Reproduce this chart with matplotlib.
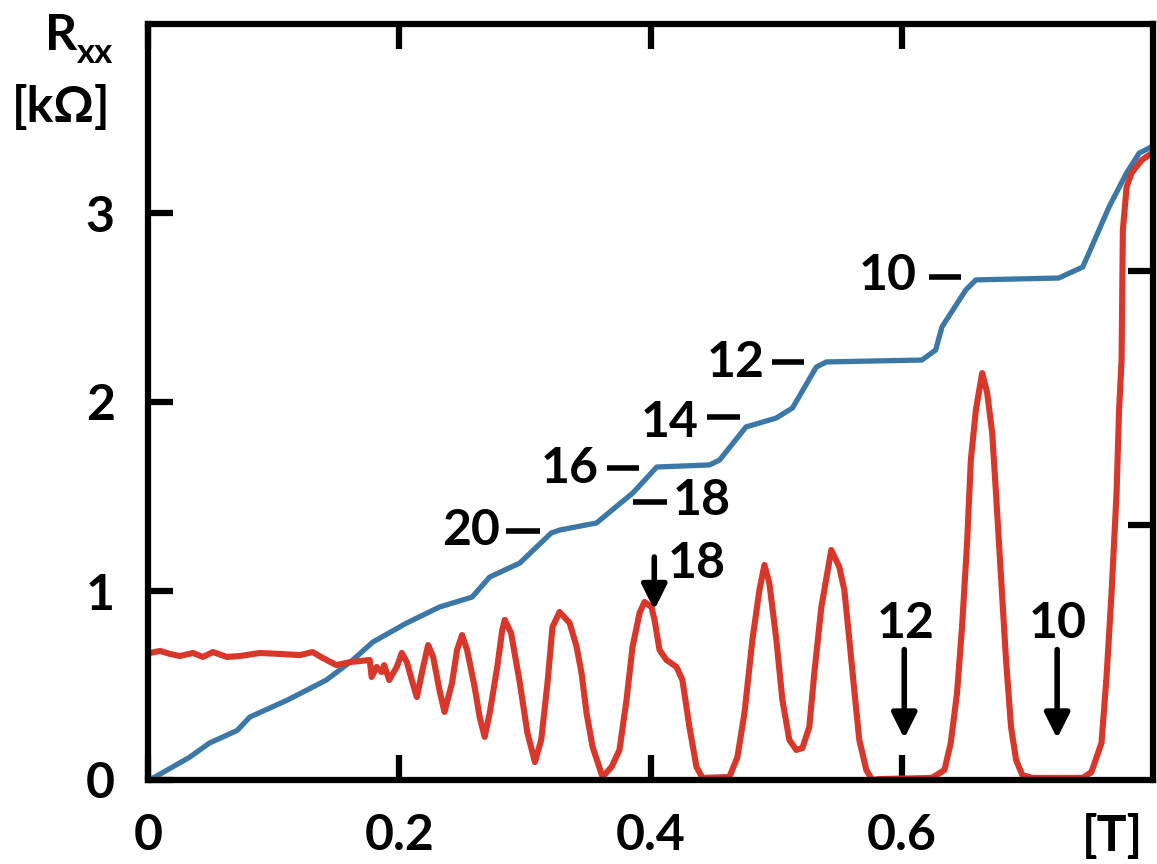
import matplotlib.pyplot as plt

plt.rcParams['font.family'] = ['Lato', 'DejaVu Sans']
plt.rcParams['font.weight'] = 'bold'

# curva azul (Rxy escalada): campo [T] y resistencia
b_azul = [0.0, 0.0056, 0.033, 0.049, 0.071, 0.081, 0.111, 0.142, 0.163, 0.179,
          0.206, 0.232, 0.258, 0.272, 0.296, 0.301, 0.321, 0.328, 0.357, 0.386,
          0.405, 0.447, 0.455, 0.476, 0.500, 0.513, 0.532, 0.540, 0.616, 0.627,
          0.632, 0.651, 0.659, 0.725, 0.744, 0.749, 0.765, 0.779, 0.789, 0.797]
r_azul = [0.0, 0.016, 0.12, 0.196, 0.262, 0.333, 0.423, 0.529, 0.635, 0.730,
          0.831, 0.915, 0.968, 1.074, 1.148, 1.18, 1.307, 1.323, 1.360, 1.519,
          1.656, 1.667, 1.693, 1.868, 1.915, 1.968, 2.185, 2.212, 2.222, 2.275,
          2.397, 2.593, 2.646, 2.656, 2.714, 2.788, 3.032, 3.212, 3.317, 3.344]

# curva roja (Rxx)
b_rojo = [0.0016, 0.0095, 0.0175, 0.0254, 0.0358, 0.0437, 0.0517, 0.0628, 0.0732,
          0.0891, 0.105, 0.121, 0.131, 0.139, 0.150, 0.161, 0.1765, 0.178, 0.182,
          0.186, 0.188, 0.192, 0.198, 0.202, 0.206, 0.210, 0.214, 0.219, 0.223,
          0.227, 0.232, 0.236, 0.242, 0.246, 0.250, 0.254, 0.260, 0.264, 0.268,
          0.272, 0.278, 0.282, 0.284, 0.289, 0.296, 0.302, 0.308, 0.313, 0.318,
          0.322, 0.3276, 0.3356, 0.3412, 0.3451, 0.3491, 0.3539, 0.3618, 0.3690,
          0.3753, 0.3809, 0.3857, 0.3913, 0.3952, 0.4008, 0.4032, 0.4072, 0.4127,
          0.4207, 0.4254, 0.4310, 0.4366, 0.4414, 0.4628, 0.4692, 0.4748, 0.4811,
          0.4867, 0.4907, 0.4946, 0.5002, 0.5050, 0.5105, 0.5161, 0.5209, 0.5264,
          0.5304, 0.5360, 0.5439, 0.5503, 0.5543, 0.5583, 0.5622, 0.5662, 0.5718,
          0.5765, 0.582, 0.624, 0.634, 0.639, 0.644, 0.648, 0.652, 0.655, 0.659,
          0.664, 0.668, 0.672, 0.675, 0.679, 0.683, 0.687, 0.691, 0.696, 0.704,
          0.744, 0.751, 0.759, 0.763, 0.767, 0.771, 0.773, 0.775, 0.7755, 0.776,
          0.779, 0.783, 0.791, 0.797]
r_rojo = [0.672, 0.683, 0.667, 0.656, 0.672, 0.651, 0.677, 0.651, 0.656,
          0.672, 0.667, 0.661, 0.677, 0.646, 0.608, 0.624, 0.635, 0.545, 0.598,
          0.571, 0.608, 0.529, 0.598, 0.672, 0.624, 0.529, 0.439, 0.598, 0.714,
          0.651, 0.476, 0.360, 0.513, 0.688, 0.767, 0.688, 0.492, 0.333, 0.228,
          0.354, 0.598, 0.794, 0.847, 0.778, 0.513, 0.249, 0.095, 0.212, 0.513,
          0.810, 0.889, 0.831, 0.704, 0.566, 0.354, 0.175, 0.016, 0.069,
          0.159, 0.423, 0.704, 0.884, 0.942, 0.915, 0.847, 0.688, 0.635,
          0.598, 0.529, 0.280, 0.069, 0.011, 0.016, 0.122, 0.354, 0.741,
          1.005, 1.138, 1.042, 0.741, 0.423, 0.212, 0.159, 0.169, 0.280,
          0.566, 0.915, 1.217, 1.127, 1.005, 0.741, 0.476, 0.212, 0.053,
          0.0, 0.005, 0.011, 0.053, 0.196, 0.460, 0.810, 1.254, 1.693, 1.958,
          2.153, 2.048, 1.836, 1.519, 1.074, 0.635, 0.280, 0.106, 0.026, 0.011,
          0.011, 0.042, 0.196, 0.545, 0.989, 1.519, 1.958, 2.222, 2.540, 2.910,
          3.138, 3.212, 3.280, 3.307]

x_ticks = [0, 0.2, 0.4, 0.6]
x_etiquetas = ['0', '0.2', '0.4', '0.6']
y_ticks = [0, 1, 2, 3]

# mesetas de la curva azul
mesetas = ['10', '12', '14', '16', '18', '20']
mesetas_x = [0.589, 0.468, 0.415, 0.336, 0.441, 0.257]
mesetas_y = [2.593, 2.132, 1.815, 1.571, 1.402, 1.243]
guion_x0 = [0.622, 0.497, 0.445, 0.365, 0.386, 0.285]
guion_x1 = [0.647, 0.522, 0.471, 0.391, 0.413, 0.312]
guion_y = [2.66, 2.21, 1.92, 1.65, 1.47, 1.32]

# flechas en los minimos de Rxx
flechas = ['18', '12', '10']
flecha_x = [0.403, 0.602, 0.7237]
flecha_cola = [1.18, 0.69, 0.69]
flecha_punta = [0.90, 0.22, 0.22]
flecha_txt_x = [0.437, 0.603, 0.724]
flecha_txt_y = [1.069, 0.751, 0.751]

fig = plt.figure(figsize=(11.57, 8.64), dpi=100)
ax = fig.add_axes([148/1157, 84/864, 1005/1157, 756/864])

ax.plot(b_azul, r_azul, color='#3b78a8', lw=3.8, solid_joinstyle='round')
ax.plot(b_rojo, r_rojo, color='#d8372a', lw=4.4, solid_joinstyle='round')

ax.set_xlim(0, 0.8)
ax.set_ylim(0, 4)
ax.set_xticks(x_ticks)
ax.set_xticklabels(x_etiquetas)
ax.set_yticks(y_ticks)
ax.tick_params(axis='both', direction='in', length=18, width=4.5, labelsize=36,
               top=True)
ax.tick_params(axis='x', pad=24)
ax.tick_params(axis='y', pad=24)
for s in ax.spines.values():
    s.set_linewidth(4.5)

# eje derecho (solo marcas)
ax2 = ax.twinx()
ax2.set_ylim(0, 29.7)
ax2.set_yticks([10, 20])
ax2.set_yticklabels([])
ax2.tick_params(axis='y', direction='in', length=18, width=4.5)
for s in ax2.spines.values():
    s.set_visible(False)

ax.annotate('[T]', xy=(0.768, 0), xycoords=ax.get_xaxis_transform(),
            xytext=(0, -24), textcoords='offset points', ha='center', va='top',
            fontsize=36)

for i in range(len(mesetas)):
    ax.text(mesetas_x[i], mesetas_y[i], mesetas[i], ha='center', va='baseline',
            fontsize=36)
    ax.plot([guion_x0[i], guion_x1[i]], [guion_y[i], guion_y[i]], color='black',
            lw=4, solid_capstyle='butt')

for i in range(len(flechas)):
    ax.annotate('', xy=(flecha_x[i], flecha_punta[i]),
                xytext=(flecha_x[i], flecha_cola[i]),
                arrowprops=dict(arrowstyle='-|>', lw=4, color='black',
                                mutation_scale=38, shrinkA=0, shrinkB=0))
    ax.text(flecha_txt_x[i], flecha_txt_y[i], flechas[i], ha='center',
            va='baseline', fontsize=36)

# titulo del eje y
fig.text(45/1157, 1 - 50/864, 'R', fontsize=36, va='baseline', ha='left')
fig.text(77/1157, 1 - 63/864, 'xx', fontsize=25, va='baseline', ha='left')
fig.text(61/1157, 1 - 122/864, '[kΩ]', fontsize=36, va='baseline', ha='center')

fig.savefig('out.png', dpi=100)
